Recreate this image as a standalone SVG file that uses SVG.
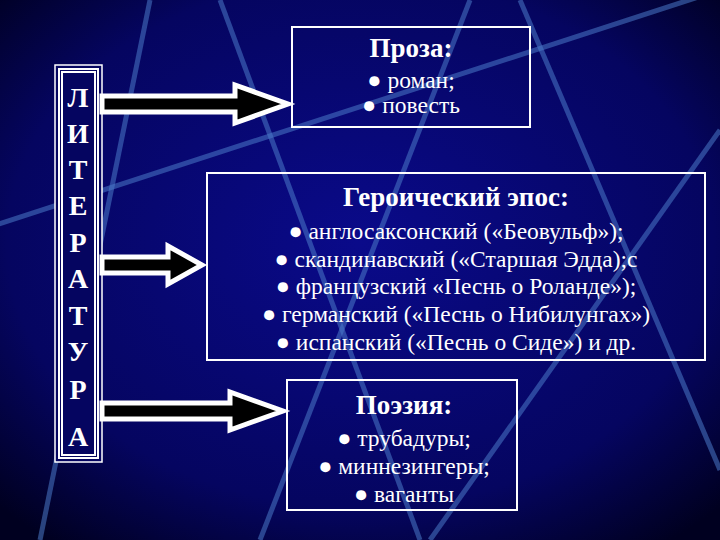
<svg xmlns="http://www.w3.org/2000/svg" width="720" height="540" viewBox="0 0 720 540">
<defs>
<radialGradient id="bg" cx="50%" cy="45%" r="70%">
<stop offset="0" stop-color="#0a0a8a"/><stop offset="0.7" stop-color="#050560"/><stop offset="1" stop-color="#000020"/>
</radialGradient>
<style>
.t{font-family:"Liberation Serif",serif;fill:#fff;text-anchor:middle}
.h{font-size:27px;font-weight:bold}
.b{font-size:23.5px}
.l{font-size:28px;font-weight:bold}
.box{fill:none;stroke:#fff;stroke-width:2}
.ln{stroke:#4a7ac8;stroke-width:5;opacity:0.55;fill:none}
.arr{fill:#000;stroke:#fff;stroke-width:5;stroke-linejoin:miter}
</style>
</defs>
<rect width="720" height="540" fill="url(#bg)"/>
<g id="bglines">
<line class="ln" x1="150" y1="0" x2="40" y2="540"/>
<line class="ln" x1="-20" y1="230" x2="720" y2="-10"/>
<line class="ln" x1="220" y1="0" x2="420" y2="540"/>
<line class="ln" x1="470" y1="0" x2="260" y2="540"/>
<line class="ln" x1="520" y1="0" x2="720" y2="470"/>
<line class="ln" x1="720" y1="130" x2="430" y2="540"/>
</g>
<g id="lit">
<rect x="55" y="65" width="47" height="397" fill="#050560" stroke="#fff" stroke-width="1.5"/>
<rect x="59" y="69" width="39" height="389" class="box" stroke-width="1.5"/>
<rect x="62" y="72" width="33" height="383" class="box" stroke-width="1"/>
<g class="t l">
<text x="78" y="107">Л</text><text x="78" y="143">И</text><text x="78" y="179">Т</text>
<text x="78" y="215">Е</text><text x="78" y="252">Р</text><text x="78" y="288">А</text>
<text x="78" y="325">Т</text><text x="78" y="361">У</text><text x="78" y="399">Р</text>
<text x="78" y="446">А</text>
</g>
</g>
<g id="connectors">
<path class="arr" d="M102,96 H235 V85 L288,104 L235,123 V112 H102 Z"/>
<path class="arr" d="M102,257 H168 V246 L202,265 L168,284 V273 H102 Z"/>
<path class="arr" d="M102,403 H230 V392 L283,411 L230,430 V419 H102 Z"/>
</g>
<g id="proza">
<rect x="292" y="27" width="238" height="100" class="box" fill="#050560" fill-opacity="0.4"/>
<text class="t h" x="411" y="57">Проза:</text>
<text class="t b" x="411" y="88">● роман;</text>
<text class="t b" x="411" y="113">● повесть</text>
</g>
<g id="epos">
<rect x="207" y="173" width="498" height="187" class="box" fill="#050560" fill-opacity="0.4"/>
<text class="t h" x="456" y="206">Героический эпос:</text>
<text class="t b" x="456" y="239">● англосаксонский («Беовульф»);</text>
<text class="t b" x="456" y="267">● скандинавский («Старшая Эдда);с</text>
<text class="t b" x="456" y="294">● французский «Песнь о Роланде»);</text>
<text class="t b" x="456" y="322">● германский («Песнь о Нибилунгах»)</text>
<text class="t b" x="456" y="350">● испанский («Песнь о Сиде») и др.</text>
</g>
<g id="poezia">
<rect x="287" y="380" width="230" height="130" class="box" fill="#050560" fill-opacity="0.4"/>
<text class="t h" x="404" y="414">Поэзия:</text>
<text class="t b" x="404" y="446">● трубадуры;</text>
<text class="t b" x="404" y="474">● миннезингеры;</text>
<text class="t b" x="404" y="502">● ваганты</text>
</g>
</svg>
